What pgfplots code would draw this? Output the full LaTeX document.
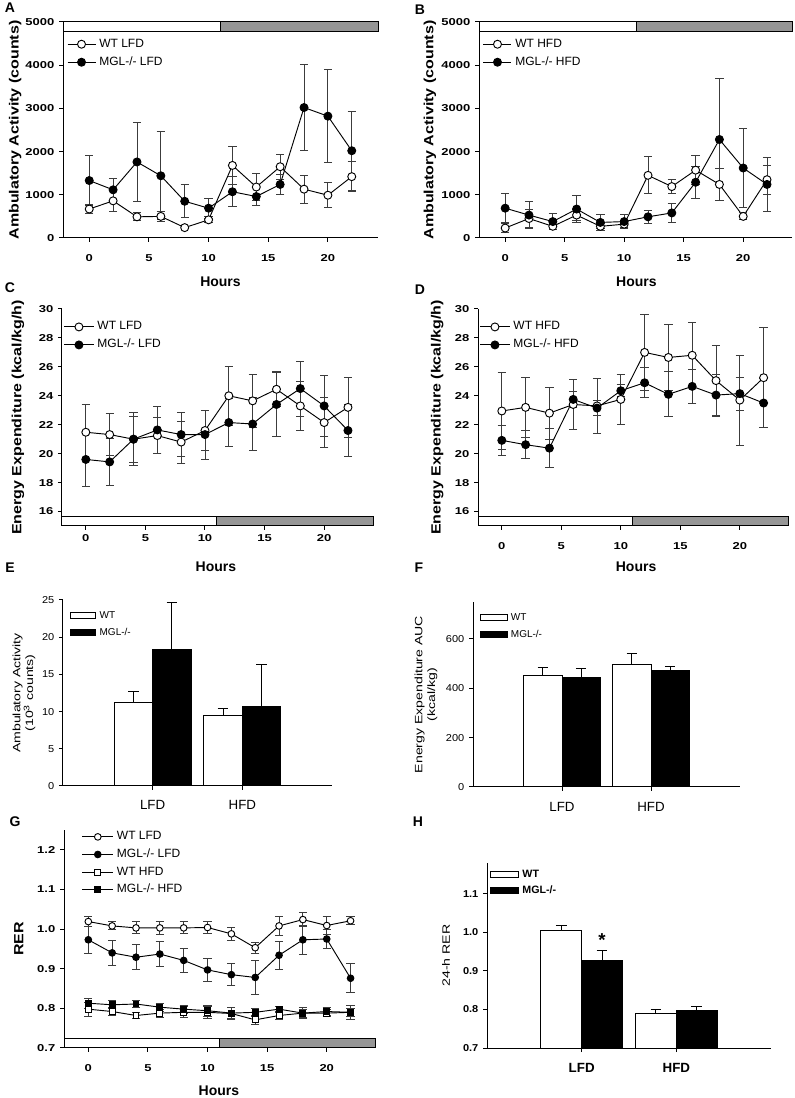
\documentclass[border=0pt]{standalone}
\usepackage{fontspec}
\setmainfont{Liberation Sans}
\newfontfamily\tickfont[FakeStretch=1.3]{Liberation Sans}
\newfontfamily\tickfontb[FakeStretch=1.1]{Liberation Sans}
\newfontfamily\vlabfont[FakeStretch=1.2]{Liberation Sans}
\newfontfamily\vlabfontb[FakeStretch=1.32]{Liberation Sans}
\usepackage{pgfplots}
\usepackage{pgfplotstable}
\pgfplotsset{compat=1.18}
\definecolor{night}{RGB}{150,150,150}
\definecolor{ebar}{RGB}{60,60,60}

\newcommand{\tickf}{\tickfont\bfseries\fontsize{7.5}{9}\selectfont}
\newcommand{\labf}{\bfseries\fontsize{10.5}{12}\selectfont}
\newcommand{\ylabf}{\vlabfont\bfseries\fontsize{10}{12}\selectfont}
\newcommand{\legf}{\fontsize{9}{10}\selectfont}
\newcommand{\panf}{\bfseries\fontsize{10.5}{12}\selectfont}

\pgfplotstableread{
x wt wte mgl mgle
0 670 100 1330 570
2 860 250 1115 270
4 490 90 1760 910
6 500 110 1440 1020
8 240 30 850 380
10 420 70 690 230
12 1680 450 1070 350
14 1180 320 960 200
16 1650 290 1240 240
18 1130 320 3020 1000
20 990 290 2820 1070
22 1420 350 2020 910
}\dataA
\pgfplotstableread{
x wt wte mgl mgle
0 230 100 690 340
2 450 200 530 320
4 270 80 380 180
6 530 120 670 310
8 270 60 360 180
10 320 70 380 160
12 1450 430 490 150
14 1190 170 580 210
16 1570 340 1290 370
18 1240 380 2280 1420
20 500 80 1620 920
22 1350 340 1240 620
}\dataB
\pgfplotstableread{
x wt wte mgl mgle
0 21.48 1.9 19.6 1.9
2 21.32 1.45 19.43 1.65
4 21.0 1.85 21.0 1.6
6 21.25 1.25 21.64 1.65
8 20.8 1.45 21.32 1.5
10 21.6 1.4 21.32 1.7
12 24.0 2.05 22.15 1.65
14 23.65 1.85 22.05 1.85
16 24.45 1.2 23.4 2.2
18 23.3 1.7 24.5 1.9
20 22.15 1.7 23.3 2.1
22 23.2 2.1 21.6 1.8
}\dataC
\pgfplotstableread{
x wt wte mgl mgle
0 22.95 2.65 20.92 1.05
2 23.2 2.05 20.62 0.97
4 22.8 1.8 20.38 1.35
6 23.4 1.75 23.75 0.55
8 23.3 1.9 23.15 0.5
10 23.75 1.7 24.35 0.4
12 27.0 2.6 24.9 1.05
14 26.65 2.3 24.1 1.55
16 26.8 2.25 24.65 1.15
18 25.05 2.45 24.05 1.4
20 23.7 3.1 24.15 1.15
22 25.25 3.45 23.5 1.7
}\dataD
\pgfplotstableread{
x wl wle ml mle wh whe mh mhe
0 1.019 0.012 0.973 0.034 0.798 0.018 0.813 0.012
2 1.008 0.010 0.940 0.032 0.792 0.010 0.809 0.010
4 1.003 0.015 0.929 0.032 0.782 0.008 0.811 0.008
6 1.003 0.017 0.937 0.032 0.788 0.010 0.803 0.010
8 1.003 0.015 0.921 0.030 0.790 0.014 0.798 0.010
10 1.004 0.016 0.897 0.030 0.790 0.016 0.794 0.014
12 0.988 0.016 0.885 0.028 0.787 0.016 0.788 0.014
14 0.953 0.014 0.878 0.042 0.771 0.012 0.790 0.010
16 1.008 0.024 0.934 0.036 0.782 0.010 0.798 0.008
18 1.024 0.018 0.973 0.036 0.788 0.014 0.788 0.010
20 1.009 0.022 0.975 0.025 0.788 0.008 0.792 0.010
22 1.021 0.010 0.876 0.037 0.790 0.018 0.790 0.010
}\dataG

\tikzset{
 ser/.style={black, line width=0.7pt, mark size=3pt,
   /pgfplots/error bars/y dir=both, /pgfplots/error bars/y explicit,
   /pgfplots/error bars/error bar style={line width=0.7pt, ebar},
   /pgfplots/error bars/error mark options={rotate=90, mark size=3.1pt, line width=0.7pt, ebar}},
 wt/.style={ser, mark=*, mark options={fill=white, draw=black, solid, line width=0.7pt}},
 mgl/.style={ser, mark=*, mark options={fill=black, draw=black, solid, line width=0.7pt}},
 bwt/.style={fill=white, draw=black, line width=0.75pt},
 bmgl/.style={fill=black, draw=black, line width=0.75pt},
}
\pgfplotsset{
 base/.style={scale only axis, anchor=south west, axis x line*=bottom, axis y line*=left,
   axis line style={line width=0.75pt,-}, tick align=outside, major tick length=3pt,
   tick style={black, line width=0.75pt}, clip=false,
   /pgf/number format/assume math mode=true, /pgf/number format/1000 sep={},
   scaled ticks=false, minor tick num=0, legend cell align=left,
   legend style={draw=none, fill=none, inner sep=0pt, anchor=north west,
     nodes={inner sep=2.5pt, text height=6.5pt, text depth=2pt}}},
 hours/.style={base, xtick={0,5,10,15,20}, ticklabel style={font=\tickf},
   xlabel={Hours}, xlabel style={font=\labf, anchor=center},
   ylabel style={font=\ylabf, anchor=center},
   legend style={font=\legf}},
 bars/.style={base, xmin=0, xmax=3, ymin=0, xtick={1,2}, xticklabels={LFD,HFD},
   ylabel style={anchor=center, align=center, font=\vlabfontb\fontsize{8}{9.5}\selectfont},
   legend style={font=\fontsize{7.5}{9}\selectfont, nodes={inner sep=2.5pt, text height=5.8pt, text depth=1.5pt}}},
 bplot/.style={ybar, bar width=0.43, bar shift=0pt,
   error bars/y dir=plus, error bars/y explicit,
   error bars/error bar style={line width=0.75pt},
   error bars/error mark options={rotate=90, mark size=4pt, line width=0.75pt}},
}

\begin{document}
\begin{tikzpicture}
\useasboundingbox (0,0) rectangle (595.5pt,823.5pt);

% ---------- A ----------
\begin{axis}[hours, at={(47.25pt,645pt)}, width=236.25pt, height=162pt,
  xmin=-2.2, xmax=24.2, ymin=0, ymax=5000, ytick={0,1000,...,5000},
  xticklabel style={yshift=-6pt},
  ylabel={Ambulatory Activity (counts)},
  ylabel style={at={(axis description cs:-0.152,0.5)}},
  xlabel style={at={(axis description cs:0.5,-0.204)}},
  legend style={at={(axis description cs:0.012,0.94)}},
  legend image code/.code={\draw[mark repeat=2,mark phase=2,#1] plot coordinates {(0pt,0pt) (10.5pt,0pt) (21pt,0pt)};}]
\draw[line width=0.75pt, fill=white] (axis cs:-2.2,4780) rectangle (axis cs:11,5000);
\draw[line width=0.75pt, fill=night] (axis cs:11,4780) rectangle (axis cs:24.2,5000);
\addplot[wt] table[x=x,y=wt,y error=wte]{\dataA};
\addplot[mgl] table[x=x,y=mgl,y error=mgle]{\dataA};
\legend{WT LFD, MGL-/- LFD}
\end{axis}

% ---------- B ----------
\begin{axis}[hours, at={(359.25pt,645pt)}, width=234.75pt, height=162pt,
  xmin=-2.2, xmax=24.1, ymin=0, ymax=5000, ytick={0,1000,...,5000},
  xticklabel style={yshift=-6pt},
  ylabel={Ambulatory Activity (counts)},
  ylabel style={at={(axis description cs:-0.157,0.5)}},
  xlabel style={at={(axis description cs:0.503,-0.204)}},
  legend style={at={(axis description cs:0.012,0.94)}},
  legend image code/.code={\draw[mark repeat=2,mark phase=2,#1] plot coordinates {(0pt,0pt) (10.5pt,0pt) (21pt,0pt)};}]
\draw[line width=0.75pt, fill=white] (axis cs:-2.2,4780) rectangle (axis cs:11,5000);
\draw[line width=0.75pt, fill=night] (axis cs:11,4780) rectangle (axis cs:24.1,5000);
\addplot[wt] table[x=x,y=wt,y error=wte]{\dataB};
\addplot[mgl] table[x=x,y=mgl,y error=mgle]{\dataB};
\legend{WT HFD, MGL-/- HFD}
\end{axis}

% ---------- C ----------
\begin{axis}[hours, at={(46.5pt,429pt)}, width=233.25pt, height=162.75pt,
  xmin=-2.0, xmax=24.1, ymin=15, ymax=30, ytick={16,18,...,30},
  ylabel={Energy Expenditure (kcal/kg/h)},
  ylabel style={at={(axis description cs:-0.142,0.5)}},
  xlabel style={at={(axis description cs:0.495,-0.189)}},
  legend style={at={(axis description cs:0.005,0.96)}},
  legend image code/.code={\draw[mark repeat=2,mark phase=2,#1] plot coordinates {(0pt,0pt) (11pt,0pt) (22pt,0pt)};}]
\draw[line width=0.75pt, fill=white] (axis cs:-2.0,15) rectangle (axis cs:11,15.65);
\draw[line width=0.75pt, fill=night] (axis cs:11,15) rectangle (axis cs:24.1,15.65);
\addplot[wt] table[x=x,y=wt,y error=wte]{\dataC};
\addplot[mgl] table[x=x,y=mgl,y error=mgle]{\dataC};
\legend{WT LFD, MGL-/- LFD}
\end{axis}

% ---------- D ----------
\begin{axis}[hours, at={(358.5pt,429pt)}, width=232.5pt, height=162.75pt,
  xmin=-2.0, xmax=24.05, ymin=15, ymax=30, ytick={16,18,...,30},
  xticklabel style={yshift=-6pt},
  ylabel={Energy Expenditure (kcal/kg/h)},
  ylabel style={at={(axis description cs:-0.132,0.5)}},
  xlabel style={at={(axis description cs:0.51,-0.189)}},
  legend style={at={(axis description cs:0.005,0.96)}},
  legend image code/.code={\draw[mark repeat=2,mark phase=2,#1] plot coordinates {(0pt,0pt) (11pt,0pt) (22pt,0pt)};}]
\draw[line width=0.75pt, fill=white] (axis cs:-2.0,15) rectangle (axis cs:11,15.65);
\draw[line width=0.75pt, fill=night] (axis cs:11,15) rectangle (axis cs:24.05,15.65);
\addplot[wt] table[x=x,y=wt,y error=wte]{\dataD};
\addplot[mgl] table[x=x,y=mgl,y error=mgle]{\dataD};
\legend{WT HFD, MGL-/- HFD}
\end{axis}

% ---------- E ----------
\begin{axis}[bars, at={(47.25pt,234pt)}, width=201.75pt, height=139.5pt,
  ymax=25, ytick={0,5,...,25},
  yticklabel style={font=\tickfontb\fontsize{7.5}{9}\selectfont},
  xticklabel style={font=\fontsize{10}{12}\selectfont, yshift=-4pt},
  ylabel={Ambulatory Activity\\(10\textsuperscript{3} counts)},
  ylabel style={at={(axis description cs:-0.145,0.5)}},
  legend style={at={(axis description cs:0.025,0.96)}},
  legend image code/.code={\draw[#1] (0pt,-2.2pt) rectangle (19pt,2.2pt);}]
\addlegendimage{bwt}
\addlegendimage{bmgl}
\addplot[bwt, bplot] coordinates {(0.785,11.25) +- (0,1.45) (1.785,9.45) +- (0,0.9)};
\addplot[bmgl, bplot] coordinates {(1.215,18.4) +- (0,6.2) (2.215,10.65) +- (0,5.7)};
\legend{WT, MGL-/-}
\end{axis}

% ---------- F ----------
\begin{axis}[bars, at={(354.75pt,233.25pt)}, width=200.25pt, height=138.75pt,
  ymax=750, ytick={0,200,400,600},
  yticklabel style={font=\tickfontb\fontsize{7.5}{9}\selectfont},
  xticklabel style={font=\fontsize{10}{12}\selectfont, yshift=-5pt},
  ylabel={Energy Expenditure AUC\\(kcal/kg)},
  ylabel style={at={(axis description cs:-0.176,0.5)}},
  legend style={at={(axis description cs:0.025,0.96)}},
  legend image code/.code={\draw[#1] (0pt,-2.2pt) rectangle (20pt,2.2pt);}]
\addlegendimage{bwt}
\addlegendimage{bmgl}
\addplot[bwt, bplot] coordinates {(0.785,450) +- (0,33) (1.785,495) +- (0,46)};
\addplot[bmgl, bplot] coordinates {(1.215,444) +- (0,35) (2.215,472) +- (0,17)};
\legend{WT, MGL-/-}
\end{axis}

% ---------- G ----------
\begin{axis}[hours, at={(48pt,37.5pt)}, width=233.25pt, height=163.5pt,
  xmin=-2.04, xmax=24.05, ymin=0.7, ymax=1.25, ytick={0.7,0.8,...,1.2},
  xticklabel style={yshift=-6pt},
  yticklabel style={/pgf/number format/.cd, fixed, fixed zerofill, precision=1},
  ylabel={RER},
  ylabel style={at={(axis description cs:-0.145,0.5)}},
  xlabel style={at={(axis description cs:0.498,-0.197)}},
  legend style={at={(axis description cs:0.057,1.01)}, nodes={text height=6.3pt, text depth=1.9pt, inner sep=2.5pt}},
  legend image code/.code={\draw[mark repeat=2,mark phase=2,#1] plot coordinates {(0pt,0pt) (11.5pt,0pt) (23pt,0pt)};}]
\draw[line width=0.75pt, fill=white] (axis cs:-2.04,0.7) rectangle (axis cs:11,0.7235);
\draw[line width=0.75pt, fill=night] (axis cs:11,0.7) rectangle (axis cs:24.05,0.7235);
\addplot[wt, mark size=2.5pt] table[x=x,y=wl,y error=wle]{\dataG};
\addplot[mgl, mark size=2.5pt] table[x=x,y=ml,y error=mle]{\dataG};
\addplot[wt, mark=square*, mark size=2.2pt] table[x=x,y=wh,y error=whe]{\dataG};
\addplot[mgl, mark=square*, mark size=2.2pt] table[x=x,y=mh,y error=mhe]{\dataG};
\legend{WT LFD, MGL-/- LFD, WT HFD, MGL-/- HFD}
\end{axis}

% ---------- H ----------
\begin{axis}[bars, at={(365.25pt,37.5pt)}, width=213pt, height=138.75pt,
  ymin=0.7, ymax=1.18, ytick={0.7,0.8,...,1.1},
  yticklabel style={font=\tickfontb\bfseries\fontsize{7.5}{9}\selectfont, /pgf/number format/.cd, fixed, fixed zerofill, precision=1},
  xticklabel style={font=\bfseries\fontsize{10}{12}\selectfont, yshift=-5pt},
  ylabel={24-h RER},
  ylabel style={at={(axis description cs:-0.144,0.5)}},
  legend style={font=\bfseries\fontsize{8}{9.5}\selectfont, at={(axis description cs:0.01,0.985)}},
  legend image code/.code={\draw[#1] (0pt,-2.2pt) rectangle (21pt,2.2pt);}]
\addlegendimage{bwt}
\addlegendimage{bmgl}
\addplot[bwt, bplot] coordinates {(0.785,1.005) +- (0,0.013) (1.785,0.789) +- (0,0.012)};
\addplot[bmgl, bplot] coordinates {(1.215,0.926) +- (0,0.027) (2.215,0.797) +- (0,0.010)};
\node[font=\bfseries\fontsize{14}{14}\selectfont, anchor=center, inner sep=0pt] at (axis cs:1.215,0.98) {*};
\legend{WT, MGL-/-}
\end{axis}

% panel letters
\node[font=\panf] at (7.5pt,817.5pt) {A};
\node[font=\panf] at (315pt,816pt) {B};
\node[font=\panf] at (7.5pt,607.5pt) {C};
\node[font=\panf] at (315pt,606pt) {D};
\node[font=\panf] at (7.5pt,397.5pt) {E};
\node[font=\panf] at (314.25pt,397.5pt) {F};
\node[font=\panf] at (11.25pt,207pt) {G};
\node[font=\panf] at (313.5pt,207pt) {H};
\end{tikzpicture}
\end{document}
